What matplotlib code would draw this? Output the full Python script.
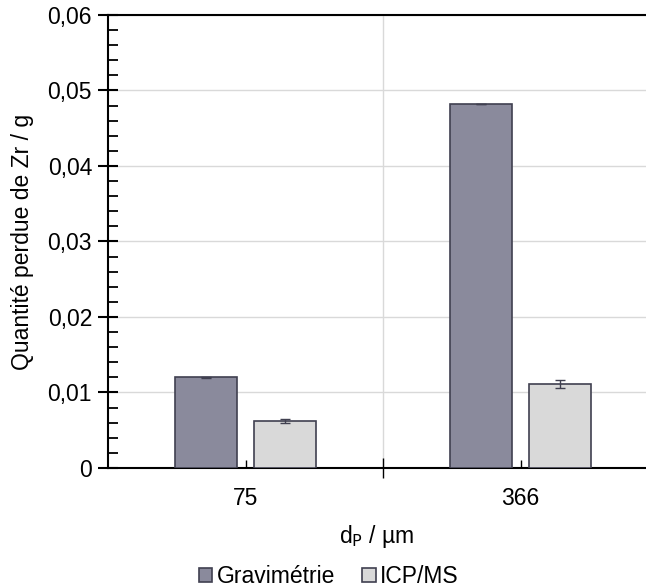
import matplotlib
matplotlib.use("Agg")
import matplotlib.pyplot as plt
import numpy as np
from matplotlib.ticker import MultipleLocator, FixedLocator

plt.rcParams['font.family'] = ['Liberation Sans', 'DejaVu Sans']

# Données
categories = ['75', '366']
gravimetrie = [0.0120, 0.0482]
gravimetrie_err = [0.00005, 0.00005]
icpms = [0.0062, 0.0111]
icpms_err = [0.0003, 0.0005]

fig = plt.figure(figsize=(6.46, 5.88), dpi=100)
ax = fig.add_axes([0.1672, 0.2041, 0.8328, 0.7704])

x = np.arange(len(categories))
w = 0.226
off = 0.143
edge = '#404050'

ax.bar(x - off, gravimetrie, w, color='#8a8a9c', edgecolor=edge, linewidth=1.2,
       label='Gravimétrie', zorder=3)
ax.bar(x + off, icpms, w, color='#d9d9d9', edgecolor=edge, linewidth=1.2,
       label='ICP/MS', zorder=3)
ax.errorbar(x - off, gravimetrie, yerr=gravimetrie_err, fmt='none', ecolor='#404050',
            elinewidth=1, capsize=3.5, capthick=1, zorder=4)
ax.errorbar(x + off, icpms, yerr=icpms_err, fmt='none', ecolor='#404050',
            elinewidth=1, capsize=3.5, capthick=1, zorder=4)

ax.set_xlim(-0.5, 1.456)
ax.set_ylim(0, 0.06)

# axe y : graduations principales croisées, secondaires intérieures
ax.yaxis.set_minor_locator(MultipleLocator(0.002))
ax.set_yticks(np.arange(0, 0.061, 0.01))
ax.set_yticklabels(['0', '0,01', '0,02', '0,03', '0,04', '0,05', '0,06'])
ax.tick_params(axis='y', which='major', direction='inout', length=15, width=1.5,
               labelsize=16.5, pad=4)
ax.tick_params(axis='y', which='minor', direction='in', length=7, width=1.3)

# axe x : séparateur de catégories croisé, petites marques au centre
ax.xaxis.set_major_locator(FixedLocator([0.5]))
ax.set_xticklabels([''])
ax.set_xticks(x, categories, minor=True)
ax.tick_params(axis='x', which='major', direction='inout', length=14, width=1)
ax.tick_params(axis='x', which='minor', direction='in', length=6, width=1,
               labelsize=16.5, pad=14)

ax.grid(True, axis='y', which='major', color='#d9d9d9', linewidth=1, zorder=0)
ax.grid(True, axis='x', which='major', color='#d9d9d9', linewidth=1, zorder=0)

for s in ['left', 'top', 'bottom']:
    ax.spines[s].set_linewidth(1.5)
    ax.spines[s].set_color('black')
ax.spines['right'].set_visible(False)

ax.set_ylabel('Quantité perdue de Zr / g', fontsize=16.5, labelpad=10)
ax.set_xlabel('d$_\\mathrm{P}$ / µm', fontsize=16.5, labelpad=9)

fig.legend(loc='lower center', bbox_to_anchor=(0.509, 0.0), ncol=2, frameon=False,
           fontsize=16.5, handlelength=0.57, handleheight=0.57, handletextpad=0.2,
           columnspacing=1.2, borderpad=0.0, borderaxespad=0.0)

fig.savefig('out.png', dpi=100)
